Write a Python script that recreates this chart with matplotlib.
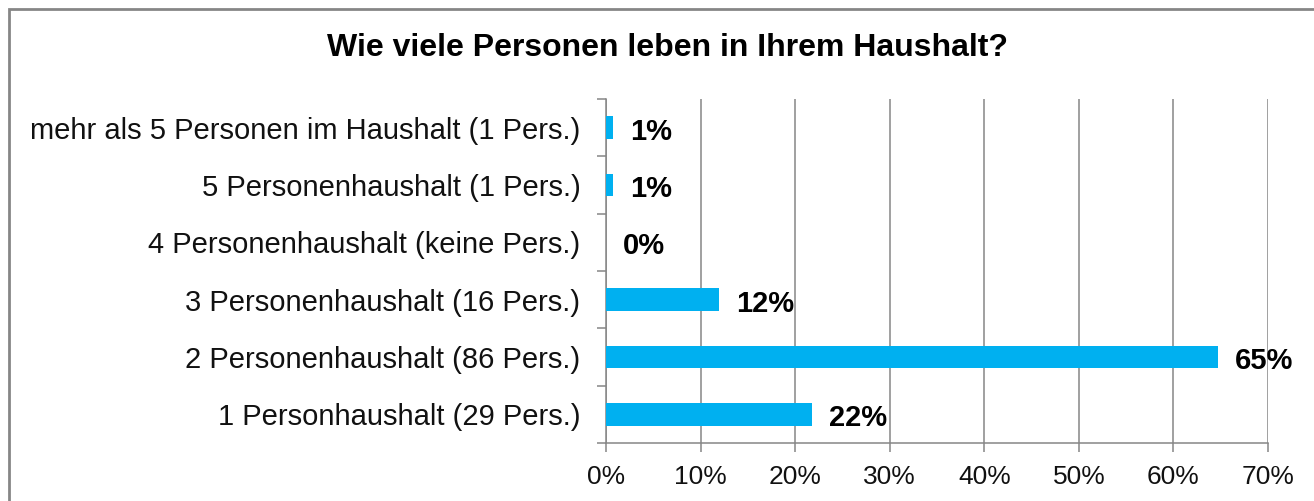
import matplotlib
matplotlib.use('Agg')
import matplotlib.pyplot as plt
from matplotlib.patches import Rectangle

plt.rcParams['font.family'] = ['Liberation Sans', 'DejaVu Sans']

# Daten (von unten nach oben)
kategorien = ['1 Personhaushalt (29 Pers.)',
              '2 Personenhaushalt (86 Pers.)',
              '3 Personenhaushalt (16 Pers.)',
              '4 Personenhaushalt (keine Pers.)',
              '5 Personenhaushalt (1 Pers.)',
              'mehr als 5 Personen im Haushalt (1 Pers.)']
anteile = [21.8, 64.7, 12.0, 0.0, 0.75, 0.75]
beschriftungen = ['22%', '65%', '12%', '0%', '1%', '1%']
x_ticks = [0, 10, 20, 30, 40, 50, 60, 70]
x_ticklabels = ['0%', '10%', '20%', '30%', '40%', '50%', '60%', '70%']

grau = '#868686'

fig = plt.figure(figsize=(13.14, 5.01), dpi=100)
ax = fig.add_axes([606 / 1314, 1 - 443 / 501, 662 / 1314, 344 / 501])

y = list(range(len(kategorien)))
ax.barh(y, anteile, height=0.4, color='#00B0F0', zorder=3)

for yi, wert, text in zip(y, anteile, beschriftungen):
    ax.annotate(text, xy=(wert, yi), xytext=(17, -4), textcoords='offset pixels',
                ha='left', va='center', fontsize=21, fontweight='bold', color='black')

ax.set_xlim(0, 70)
ax.set_ylim(-0.5, len(kategorien) - 0.5)
ax.set_xticks(x_ticks)
ax.set_xticklabels(x_ticklabels)
ax.set_yticks(y)
ax.set_yticklabels(kategorien)
ax.set_yticks([i - 0.5 for i in range(len(kategorien) + 1)], minor=True)

ax.tick_params(axis='y', which='major', length=0, pad=18.5, labelsize=21, labelcolor='#111111')
ax.tick_params(axis='y', which='minor', length=6.5, width=1.1, color=grau, direction='out')
ax.tick_params(axis='x', which='major', length=6.5, width=1.1, color=grau, direction='out',
               pad=9, labelsize=19, labelcolor='#111111')

ax.grid(axis='x', color=grau, linewidth=1.1, zorder=0)
for s in ['top', 'right']:
    ax.spines[s].set_visible(False)
for s in ['left', 'bottom']:
    ax.spines[s].set_color(grau)
    ax.spines[s].set_linewidth(1.1)

fig.text(667 / 1314, 1 - 48 / 501, 'Wie viele Personen leben in Ihrem Haushalt?',
         ha='center', va='center', fontsize=23, fontweight='bold')

# Rahmen
fig.patches.append(Rectangle((9 / 1314, -0.1), 1.2, 1.1 - 9 / 501,
                             transform=fig.transFigure, fill=False,
                             edgecolor=grau, linewidth=2))

fig.savefig('out.png', dpi=100)
